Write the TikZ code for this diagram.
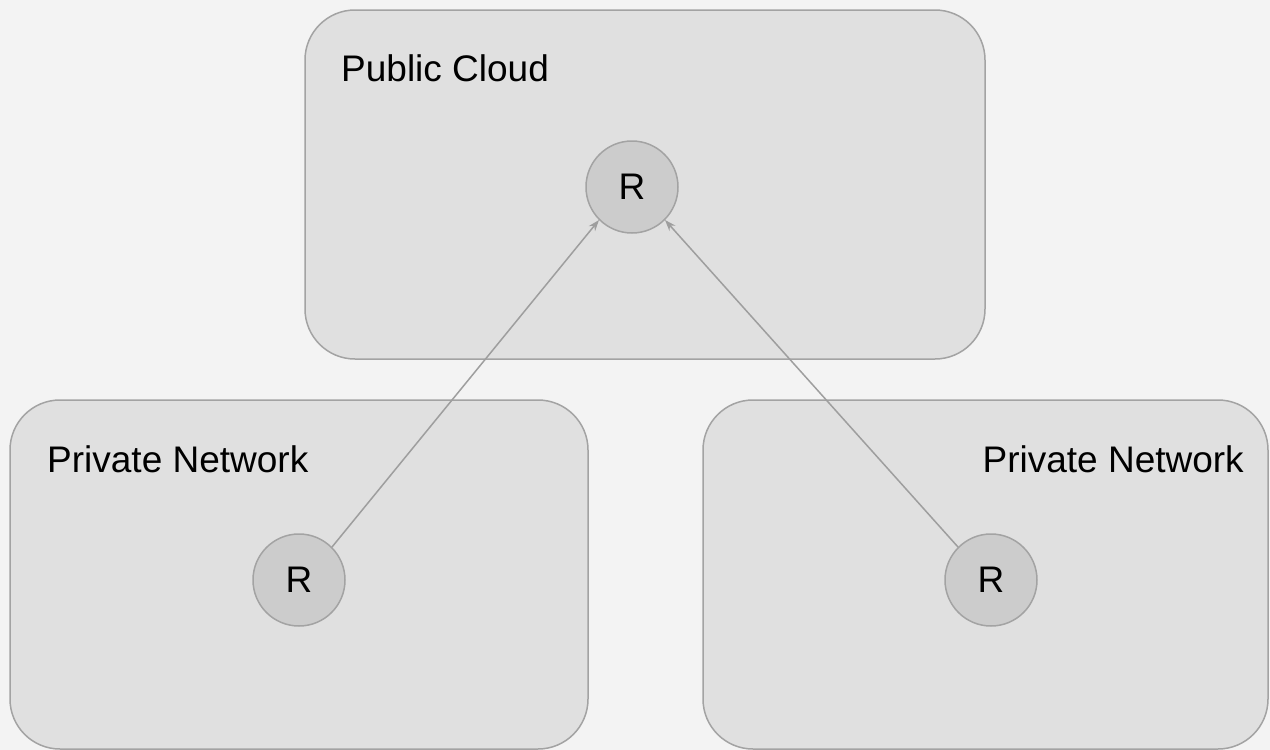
\documentclass[tikz,border=0pt]{standalone}
\usepackage{fontspec}
\setmainfont{Liberation Sans}
\usetikzlibrary{arrows.meta}
\definecolor{bg}{HTML}{F3F3F3}
\definecolor{zonefill}{HTML}{E0E0E0}
\definecolor{zoneline}{HTML}{A3A3A3}
\definecolor{routerfill}{HTML}{CCCCCC}
\definecolor{wire}{HTML}{9E9E9E}
\tikzset{
  zone/.style={draw=zoneline, line width=1.5pt, fill=zonefill, rounded corners=50pt},
  router/.style={circle, draw=zoneline, line width=1.5pt, fill=routerfill,
    minimum size=92pt, inner sep=0pt, font=\fontsize{37}{44}\selectfont},
  zonelabel/.style={font=\fontsize{37}{44}\selectfont, inner sep=0pt},
  link/.style={draw=wire, line width=1.5pt, -{Stealth[length=11pt,width=8pt]}}
}
\begin{document}
\begin{tikzpicture}[x=1pt,y=-1pt]
  \fill[bg] (0,0) rectangle (1270,750);
  \useasboundingbox (0,0) rectangle (1270,750);
  % zones
  \draw[zone] (305,10) rectangle (985,359);
  \draw[zone] (10,400) rectangle (588,749);
  \draw[zone] (703,400) rectangle (1268,749);
  % labels
  \node[zonelabel, anchor=base west] (lpub) at (341,81) {Public Cloud};
  \node[zonelabel, anchor=base west] (lpl) at (47,472) {Private Network};
  \node[zonelabel, anchor=base east] (lpr) at (1244,472) {Private Network};
  % routers
  \node[router] (rt) at (632,187) {R};
  \node[router] (rl) at (299,580) {R};
  \node[router] (rr) at (991,580) {R};
  % links
  \draw[link] (rl.45) -- (rt.225);
  \draw[link] (rr.135) -- (rt.315);
\end{tikzpicture}
\end{document}
